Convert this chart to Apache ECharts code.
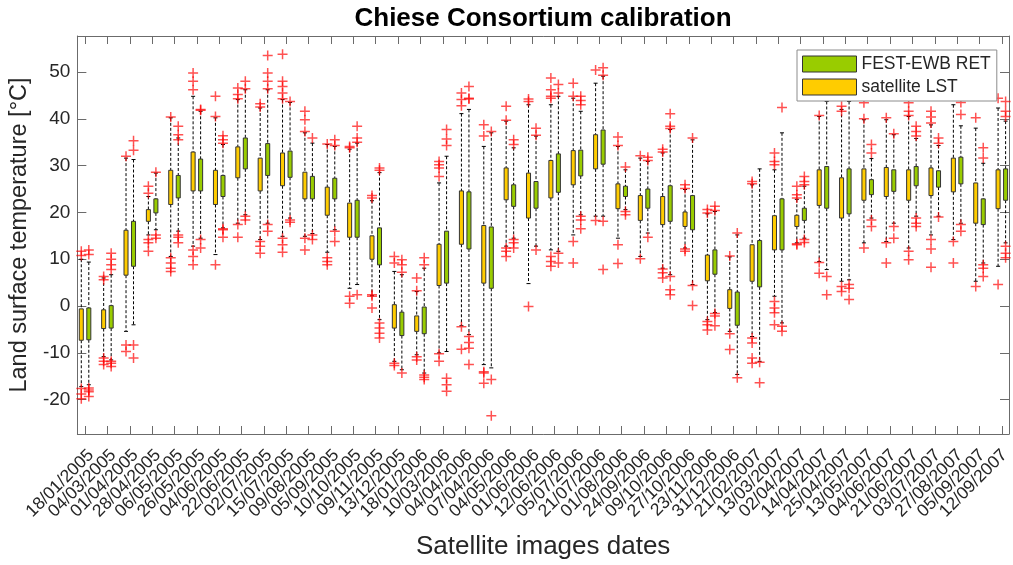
<!DOCTYPE html>
<html>
<head>
<meta charset="utf-8">
<script src="https://cdn.jsdelivr.net/npm/echarts@6/dist/echarts.min.js"></script>
<style>html,body{margin:0;padding:0;background:#fff}#c{width:1013px;height:565px}</style>
</head>
<body>
<div id="c"></div>
<script>
// ---------------- DATA ----------------
const dates = ['18/01/2005','04/03/2005','01/04/2005','28/04/2005','06/05/2005','26/05/2005','04/06/2005','22/06/2005','02/07/2005','15/07/2005','09/08/2005','05/09/2005','10/10/2005','09/11/2005','13/12/2005',
'18/01/2006','10/03/2006','04/04/2006','07/04/2006','04/05/2006','01/06/2006','12/06/2006','05/07/2006','21/07/2006','01/08/2006','24/09/2006','09/10/2006','27/10/2006','23/11/2006','31/12/2006',
'21/02/2007','13/03/2007','02/04/2007','14/04/2007','25/04/2007','13/05/2007','04/06/2007','21/06/2007','03/07/2007','27/08/2007','05/09/2007','12/09/2007'];

// satellite LST (yellow)
const lstLow  = [-17.2,-10.8,-5.4,15.2,10.6,12.8,11.0,17.7,14.2,14.9,14.9,11.5,3.8,2.2,-11.8,-10.4,-10.0,-4.2,-12.5,12.8,4.8,12.0,15.2,19.2,14.5,10.6,8.1,12.4,-2.9,-5.4,-6.5,2.1,13.5,9.5,5.3,13.5,13.8,12.4,15.2,14.2,5.3,8.5];
const lstQ1   = [-7.3,-4.8,6.6,18.1,21.7,24.6,21.7,27.4,24.6,25.7,22.9,19.4,14.7,10.0,-4.7,-5.4,4.4,13.2,4.9,22.7,18.8,23.1,25.9,29.3,20.8,18.3,17.4,17.0,5.4,-0.5,5.3,12.0,17.0,21.5,18.8,22.6,23.4,22.6,23.6,24.4,17.7,20.8];
const lstQ3   = [-0.6,-0.8,16.2,20.6,29.0,32.9,29.0,34.0,31.6,32.7,28.6,25.4,22.0,15.0,0.3,-2.1,13.2,24.6,17.2,29.5,28.4,31.1,33.2,36.6,26.1,23.6,23.4,20.1,10.9,3.5,13.1,19.3,19.4,29.1,27.4,29.3,29.6,29.1,29.5,31.6,26.3,29.1];
const lstHigh = [10.0,6.0,31.6,23.4,40.2,44.8,40.2,44.1,42.3,44.1,37.0,34.5,33.5,22.5,7.4,3.1,26.3,41.1,34.1,39.5,43.0,43.0,44.4,47.6,34.1,31.6,32.7,24.9,19.7,10.5,25.9,29.1,22.8,40.5,42.0,39.8,39.8,40.5,38.7,43.0,38.0,42.3];
const lstOut = [
  [11.7,10.8,-17.6,-18.8,-19.8],[6.3,5.6,-11.1,-11.8,-12.5],[32.0,-8.3,-9.7],[25.6,24.1,14.2,13.5,11.7],[40.4,10.3,9.2,8.1,7.4],
  [49.8,48.0,46.2,12.0,10.6,8.8],[44.8,40.5,8.8],[46.6,45.2,44.3,17.4,14.7],[43.2,42.5,13.8,12.8,11.3],[53.8,48.0,46.9,45.5,44.3,14.5,13.1,11.5],
  [41.6,39.8,37.3,14.5,12.0],[34.6,10.3,9.5,8.8],[34.1,33.8,2.1,0.6],[23.6,23.1,2.4,2.1,-0.4],[10.6,9.2,-12.2,-12.7],
  [6.0,3.3,-10.8,-11.5],[30.9,30.2,29.5,27.7,-10.2,-11.8],[45.5,44.1,42.8,-4.4,-9.2],[38.7,36.3,-14.0,-14.3,-16.5],[42.7,39.7,12.4,11.7,10.6],
  [44.2,43.7,-0.1],[48.7,46.2,44.8,44.4,10.6,9.5,8.5],[47.6,44.8,13.8,9.2],[50.4,18.3],[36.1,34.3,13.1,9.1],
  [32.1,10.1],[33.5,32.9,7.9,7.1,6.0],[25.9,25.1,12.2,11.7],[20.6,19.9,-3.3,-4.0,-5.1],[10.7,-5.9,-9.3],
  [26.6,26.1,-6.8,-7.9,-11.1,-12.2],[32.7,30.9,30.2,1.0,-0.4,-1.4,-4.0],[25.6,23.8,23.1,13.3,13.1],[40.7,9.3,7.0],[42.7,41.6,4.2,3.1],
  [43.4,40.0,12.4],[40.2,13.5,9.2],[43.4,41.6,40.7,11.7,9.9],[41.6,40.4,39.1,14.2,12.2,8.3],[13.8,9.2],[40.2,4.2],[44.4,4.6]
];

// FEST-EWB RET (green)
const retLow  = [-16.8,-11.5,-4.0,16.3,16.0,14.5,16.7,19.5,17.7,18.8,15.5,16.3,4.6,-2.9,-13.6,-14.3,-9.7,-6.1,-13.2,14.5,12.8,11.7,19.5,19.2,20.6,15.6,6.7,4.6,-1.4,-14.6,-11.8,-3.6,14.5,7.8,5.6,18.8,17.7,19.2,19.2,17.7,9.2,13.5];
const retQ1   = [-7.2,-4.7,8.5,19.9,23.1,24.6,23.4,29.3,27.9,27.5,22.9,22.9,14.7,8.8,-6.3,-5.9,4.9,12.2,3.8,21.3,20.9,24.3,27.8,30.3,23.4,20.9,18.1,16.3,6.8,-4.1,4.1,12.0,18.3,20.9,19.7,23.8,24.5,25.7,25.4,26.1,17.4,22.6];
const retQ3   = [-0.4,0.1,18.1,22.9,27.9,31.4,27.9,35.9,34.7,33.1,27.7,27.3,22.6,16.7,-1.3,-0.2,16.0,24.4,16.9,25.9,26.6,32.5,33.3,37.6,25.6,25.0,25.7,23.6,12.0,3.0,14.0,22.9,20.9,29.8,29.3,27.0,29.1,29.8,28.9,31.8,22.9,29.3];
const retHigh = [9.4,6.7,31.3,28.4,35.9,41.6,34.5,46.2,46.2,43.5,34.8,34.1,34.8,28.5,6.7,8.1,32.0,42.0,37.0,33.8,36.3,44.8,41.6,49.1,29.1,30.9,37.7,35.5,20.2,15.2,29.3,37.0,25.6,43.7,43.7,31.5,36.6,35.8,34.3,38.5,30.5,39.5];
const retOut = [
  [12.0,11.0,-17.5,-17.9,-18.3,-19.3],[11.3,10.0,8.8,7.8,-11.8,-12.2,-12.9],[35.3,33.3,-8.3,-11.1],[28.6,15.2,14.5],[38.4,36.6,35.5,15.2,14.7,13.5],
  [42.0,41.8,14.2,12.4],[36.4,35.5,34.8,16.5,16.3,14.7],[48.0,46.4,19.2,18.4],[53.5,49.8,48.0,46.4,17.4,16.0],[43.7,18.4,17.9],
  [35.9,15.2,14.2],[35.5,34.3,16.0,13.8],[38.4,35.9,35.0,2.4],[29.5,29.0,-3.6,-4.7,-5.8,-6.8],[9.9,8.8,7.2,-14.3],
  [10.3,8.8,-14.7,-15.2,-15.7],[37.7,35.7,34.3,-15.4,-16.8,-18.2],[46.9,44.4,44.2,-6.5,-7.8,-9.0,-12.5],[37.3,-15.7,-23.4],[35.5,34.5,14.2,13.5,12.4],
  [38.0,36.5,12.0],[47.3,45.5,11.3,9.2],[44.8,43.9,43.0,19.2,18.4,16.5],[50.9,49.3,18.1,7.8],[29.7,20.2,19.5],
  [31.8,31.1,14.7],[41.1,38.4,37.9,6.3,3.5,2.4],[35.9,4.4,0.1],[21.3,20.4,-1.6,-2.1,-4.2],[15.6,-15.3],
  [-12.0,-16.4],[42.4,-4.3,-5.4],[27.7,26.6,25.9,14.2,13.6],[6.3,2.4],[4.6,3.8,1.4],
  [34.5,32.7,18.4,17.0],[36.8,17.0,14.5],[38.4,37.3,36.3,18.8,17.7,17.0],[35.9,34.8,19.0],[40.9,43.5,17.4,16.0],[33.8,31.6,8.8,8.1,6.3],[43.7,41.6,40.5,12.8,11.3,10.3]
];

const yTicks = [-20,-10,0,10,20,30,40,50];

// ---------------- STYLE / LAYOUT ----------------
const FONT = 'Liberation Sans, Arial, Helvetica, sans-serif';
const YELLOW = '#FFCC00', GREEN = '#99CC00';
const BOX_W = 0.18, OFFSET = 0.168;
const AXIS_COLOR = '#6b6b6b', TEXT_COLOR = '#262626';
const X_MIN = 0.656, X_MAX = 42.32, Y_MIN = -27.32, Y_MAX = 57.68;
const GRID_L = 77, GRID_T = 36, GRID_W = 932, GRID_H = 398;
const xTickVals = dates.map((d, i) => i + 1);
// band layout for the (category) label axis, aligned with the value axis ticks
const UNIT = GRID_W / (X_MAX - X_MIN);
const LABEL_L = GRID_L + (1 - X_MIN) * UNIT - UNIT / 2;
const LABEL_W = dates.length * UNIT;

function boxSeries(name, color, off, low, q1, q3, high) {
  return {
    type: 'custom', name: name, z: 3, xAxisIndex: 0, yAxisIndex: 0,
    itemStyle: { color: color, borderColor: '#333', borderWidth: 1 },
    encode: { x: 0, y: [1, 2, 3, 4] },
    data: dates.map((d, i) => [i + 1, low[i], q1[i], q3[i], high[i]]),
    renderItem: function (params, api) {
      const x = api.value(0) + off;
      const pL = api.coord([x, api.value(1)]);
      const p1 = api.coord([x, api.value(2)]);
      const p3 = api.coord([x, api.value(3)]);
      const pH = api.coord([x, api.value(4)]);
      const w = api.size([BOX_W, 0])[0];
      const cx = pL[0];
      const dash = { stroke: '#000', lineWidth: 1, lineDash: [3, 2] };
      const cap = { stroke: '#000', lineWidth: 1 };
      return { type: 'group', children: [
        { type: 'line', shape: { x1: cx, y1: pH[1], x2: cx, y2: p3[1] }, style: dash },
        { type: 'line', shape: { x1: cx, y1: p1[1], x2: cx, y2: pL[1] }, style: dash },
        { type: 'line', shape: { x1: cx - w / 2, y1: pH[1], x2: cx + w / 2, y2: pH[1] }, style: cap },
        { type: 'line', shape: { x1: cx - w / 2, y1: pL[1], x2: cx + w / 2, y2: pL[1] }, style: cap },
        { type: 'rect', shape: { x: cx - w / 2, y: p3[1], width: w, height: p1[1] - p3[1] },
          style: { fill: color, stroke: '#333', lineWidth: 1 } }
      ] };
    }
  };
}

function outSeries(outs, off) {
  const data = [];
  outs.forEach((arr, i) => arr.forEach(v => data.push([i + 1 + off, v])));
  return {
    type: 'scatter', silent: true, z: 4, xAxisIndex: 0, yAxisIndex: 0,
    symbol: 'path://M0,5L10,5M5,0L5,10', symbolSize: 10,
    itemStyle: { color: 'rgba(255,0,0,0)', borderColor: 'rgba(255,0,0,0.85)', borderWidth: 1.5 },
    data: data
  };
}

const axisLineStyle = { show: true, onZero: false, lineStyle: { color: AXIS_COLOR } };

const chart = echarts.init(document.getElementById('c'), null, { renderer: 'canvas' });
chart.setOption({
  animation: false,
  backgroundColor: '#fff',
  title: {
    text: 'Chiese Consortium calibration', left: 538, top: 1, textAlign: 'center',
    textStyle: { fontFamily: FONT, fontSize: 26, fontWeight: 'bold', color: '#000' }
  },
  grid: [
    { left: GRID_L, top: GRID_T, width: GRID_W, height: GRID_H, containLabel: false },
    { left: LABEL_L, top: GRID_T, width: LABEL_W, height: GRID_H, containLabel: false, show: false }
  ],
  legend: {
    orient: 'vertical', left: 797, top: 50, padding: [5, 6, 5, 5], itemGap: 5,
    itemWidth: 54, itemHeight: 16, backgroundColor: '#fff', borderColor: '#8c8c8c', borderWidth: 1,
    selectedMode: false, z: 10,
    textStyle: { fontFamily: FONT, fontSize: 17.5, color: TEXT_COLOR },
    data: [
      { name: 'FEST-EWB RET', icon: 'rect', itemStyle: { color: GREEN, borderColor: '#333', borderWidth: 1 } },
      { name: 'satellite LST', icon: 'rect', itemStyle: { color: YELLOW, borderColor: '#333', borderWidth: 1 } }
    ]
  },
  xAxis: [{
    type: 'value', gridIndex: 0, min: X_MIN, max: X_MAX, position: 'bottom',
    name: 'Satellite images dates', nameLocation: 'middle', nameGap: 100,
    nameTextStyle: { fontFamily: FONT, fontSize: 26, color: TEXT_COLOR },
    axisLine: axisLineStyle,
    axisTick: { show: true, inside: true, length: 8, customValues: xTickVals, lineStyle: { color: AXIS_COLOR } },
    axisLabel: { show: false },
    splitLine: { show: false }
  }, {
    type: 'value', gridIndex: 0, min: X_MIN, max: X_MAX, position: 'top',
    axisLine: axisLineStyle,
    axisTick: { show: true, inside: true, length: 8, customValues: xTickVals, lineStyle: { color: AXIS_COLOR } },
    axisLabel: { show: false }, splitLine: { show: false }
  }, {
    type: 'category', gridIndex: 1, data: dates, position: 'bottom', boundaryGap: true,
    axisLine: { show: false, onZero: false }, axisTick: { show: false }, splitLine: { show: false },
    axisLabel: { show: true, interval: 0, rotate: 45, margin: 12, verticalAlign: 'top', hideOverlap: false,
      fontFamily: FONT, fontSize: 17.5, color: TEXT_COLOR }
  }],
  yAxis: [{
    type: 'value', gridIndex: 0, min: Y_MIN, max: Y_MAX, position: 'left',
    name: 'Land surface temperature [°C]', nameLocation: 'middle', nameGap: 33, nameRotate: 90,
    nameTextStyle: { fontFamily: FONT, fontSize: 23.5, color: TEXT_COLOR },
    axisLine: axisLineStyle,
    axisTick: { show: true, inside: true, length: 9, customValues: yTicks, lineStyle: { color: AXIS_COLOR } },
    axisLabel: { show: true, customValues: yTicks, margin: 7, fontFamily: FONT, fontSize: 19, color: TEXT_COLOR },
    splitLine: { show: false }
  }, {
    type: 'value', gridIndex: 0, min: Y_MIN, max: Y_MAX, position: 'right',
    axisLine: axisLineStyle,
    axisTick: { show: true, inside: true, length: 9, customValues: yTicks, lineStyle: { color: AXIS_COLOR } },
    axisLabel: { show: false }, splitLine: { show: false }
  }, {
    type: 'value', gridIndex: 1, show: false, min: Y_MIN, max: Y_MAX
  }],
  series: [
    boxSeries('satellite LST', YELLOW, -OFFSET, lstLow, lstQ1, lstQ3, lstHigh),
    boxSeries('FEST-EWB RET', GREEN, OFFSET, retLow, retQ1, retQ3, retHigh),
    outSeries(lstOut, -OFFSET),
    outSeries(retOut, OFFSET)
  ]
});
</script>
</body>
</html>
